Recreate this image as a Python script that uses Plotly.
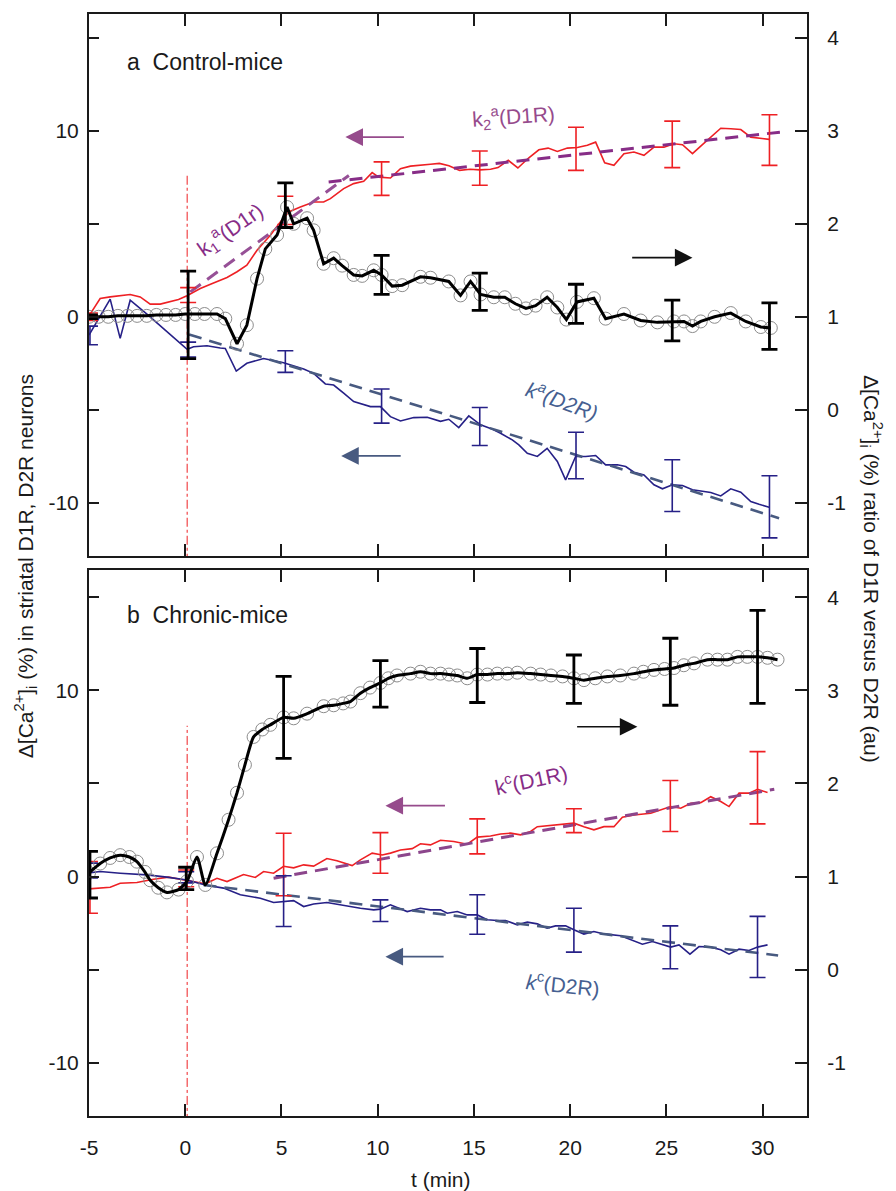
import plotly.graph_objects as go

# ---------------- DATA ----------------
# Panel a (Control-mice) -- left axis: D1R (red) and D2R (blue), right axis: ratio (black)
A_D1R_T = [-5.0, -4.42, -3.9, -2.86, -2.34, -1.82, -1.3, -0.35, 0.09, 0.78, 1.47, 2.17, 2.69, 3.2, 3.73,
           4.42, 4.94, 5.37, 5.98, 6.67, 7.19, 7.54, 8.23, 8.75, 9.27, 9.71, 10.05, 10.66, 11.18, 11.7,
           12.74, 13.2, 13.7, 14.25, 14.8, 15.3, 15.86, 16.25, 16.78, 17.28, 17.85, 18.37, 18.85, 19.33,
           19.85, 20.37, 20.89, 21.32, 21.79, 22.27, 22.79, 23.31, 23.83, 24.35, 24.87, 25.39, 25.83,
           26.35, 26.78, 27.3, 27.82, 28.34, 28.86, 29.38, 30.33]
A_D1R_V = [0.05, 0.98, 1.07, 1.2, 1.07, 0.68, 0.68, 0.93, 1.13, 1.52, 1.82, 2.11, 2.42, 2.77, 3.58,
           4.38, 5.1, 5.64, 5.9, 6.17, 6.17, 6.35, 6.89, 7.16, 7.28, 7.75, 7.51, 7.46, 7.96, 8.1,
           8.2, 8.25, 8.12, 7.87, 7.93, 7.9, 7.93, 8.02, 8.41, 8.0, 8.55, 8.98, 9.07, 8.89,
           9.07, 9.1, 9.22, 9.39, 8.28, 8.14, 8.77, 8.86, 8.68, 9.12, 9.12, 9.3, 9.25,
           8.77, 9.18, 9.66, 10.14, 10.11, 10.07, 9.66, 9.54]

A_D2R_T = [-5.0, -3.9, -3.38, -2.86, -1.99, 0.1, 0.43, 1.13, 1.82, 2.08, 2.65, 3.2, 4.07, 5.11, 6.15,
           6.67, 7.28, 7.71, 8.23, 8.75, 9.62, 10.14, 10.66, 11.18, 11.87, 12.57, 13.26, 13.69, 14.21,
           14.73, 15.34, 15.86, 16.38, 16.99, 17.33, 17.77, 18.29, 18.8, 19.33, 19.76, 20.28, 20.8,
           21.32, 21.84, 22.45, 22.88, 23.31, 23.83, 24.35, 24.79, 25.31, 25.83, 26.35, 26.87, 27.3,
           27.82, 28.34, 28.86, 29.38, 29.81, 30.33]
A_D2R_V = [-0.98, 0.95, -1.16, 0.89, 0.14, -1.75, -1.61, -1.56, -1.68, -1.7, -2.92, -2.5, -2.24, -2.47, -2.81,
           -3.04, -3.61, -3.67, -4.11, -4.56, -4.83, -4.83, -5.37, -5.6, -5.42, -5.4, -5.62, -5.51, -5.96,
           -5.33, -5.81, -6.0, -6.26, -6.62, -6.89, -7.34, -7.51, -7.07, -7.78, -8.77, -7.51, -7.51,
           -7.46, -7.96, -7.96, -8.05, -8.36, -8.5, -9.03, -9.25, -9.03, -9.07, -9.3, -9.36, -9.45,
           -9.63, -9.25, -9.43, -9.93, -10.08, -10.24]

A_RATIO_T = [-5.0, -4.5, -4.0, -3.5, -3.0, -2.5, -2.0, -1.5, -1.0, -0.5, 0.0, 0.5, 1.0, 1.65, 2.08, 2.69,
             3.2, 3.73, 4.16, 4.77, 5.29, 5.63, 6.33, 6.67, 7.19, 7.71, 8.15, 8.75, 9.19, 9.79, 10.2,
             10.75, 11.27, 12.22, 12.74, 13.69, 14.3, 14.82, 15.34, 16.03, 16.6, 17.15, 17.7, 18.2, 18.8,
             19.33, 19.8, 20.35, 21.23, 21.84, 22.79, 23.66, 24.53, 25.39, 25.91, 26.35, 26.78, 27.5,
             28.34, 29.12, 29.9, 30.42]
A_RATIO_V = [1.0, 1.0, 1.0, 1.01, 1.01, 1.01, 1.01, 1.02, 1.02, 1.02, 1.03, 1.03, 1.03, 1.03, 0.98, 0.71,
             0.91, 1.41, 1.73, 1.88, 2.18, 2.0, 2.06, 1.93, 1.57, 1.63, 1.55, 1.45, 1.44, 1.5, 1.45,
             1.33, 1.34, 1.43, 1.42, 1.38, 1.23, 1.38, 1.24, 1.21, 1.21, 1.14, 1.09, 1.12, 1.21,
             1.1, 0.97, 1.16, 1.2, 0.98, 1.03, 0.96, 0.94, 0.95, 0.95, 0.9, 0.95, 1.0,
             1.04, 0.95, 0.89, 0.88]

A_ERR_T = [-4.95, 0.15, 5.2, 10.2, 15.3, 20.3, 25.3, 30.35]
A_D1R_ERR_C = [0.0, 1.17, 5.72, 7.43, 7.99, 9.03, 9.27, 9.5]
A_D1R_ERR = [0.2, 0.4, 0.76, 0.9, 0.92, 1.16, 1.25, 1.36]
A_D2R_ERR_C = [-1.0, -1.76, -2.41, -4.8, -5.9, -7.46, -9.08, -10.22]
A_D2R_ERR = [0.5, 0.4, 0.58, 0.92, 1.02, 1.25, 1.39, 1.67]
A_RATIO_ERR_C = [1.0, 1.02, 2.2, 1.45, 1.27, 1.14, 0.96, 0.9]
A_RATIO_ERR = [0.02, 0.47, 0.24, 0.21, 0.2, 0.21, 0.22, 0.25]

A_FIT_K1_T = [0.26, 8.5]
A_FIT_K1_V = [1.34, 7.6]
A_FIT_K2_T = [7.45, 30.94]
A_FIT_K2_V = [7.25, 9.93]
A_FIT_D2R_T = [0.2, 30.85]
A_FIT_D2R_V = [-0.95, -10.83]

# Panel b (Chronic-mice)
C_D1R_T = [-5.0, -3.9, -3.38, -2.51, -1.65, -0.87, -0.26, 0.43, 1.04, 1.65, 2.17, 3.03, 3.64, 4.07, 4.59,
           5.11, 5.63, 6.15, 6.67, 7.36, 7.88, 8.67, 9.1, 9.71, 10.23, 10.66, 11.18, 11.79, 12.22, 12.74,
           13.26, 13.95, 14.65, 15.17, 15.86, 16.38, 16.9, 17.42, 17.94, 18.29, 19.33, 20.19, 20.71,
           21.23, 21.75, 22.27, 22.71, 23.31, 24.18, 24.7, 25.22, 25.74, 26.26, 26.78, 27.3, 27.82,
           28.25, 28.77, 29.29, 29.73, 30.25]
C_D1R_V = [-0.66, -0.57, -0.36, -0.32, -0.14, -0.03, -0.14, -0.27, -0.39, -0.09, -0.27, 0.11, -0.05, 0.27, 0.18,
           0.55, 0.47, 0.63, 0.56, 0.97, 0.85, 0.59, 0.9, 1.26, 1.16, 1.26, 1.43, 1.5, 1.76, 1.7,
           1.95, 1.88, 1.74, 2.12, 2.18, 2.29, 2.33, 2.24, 2.42, 2.68, 2.78, 2.87, 2.68,
           2.51, 2.68, 2.68, 3.19, 3.31, 3.4, 3.58, 3.76, 3.67, 3.94, 3.97, 4.29, 4.03,
           3.76, 4.48, 4.48, 4.69, 4.51]

C_D2R_T = [-5.0, -4.42, -3.38, -1.99, -0.95, 0.09, 1.04, 1.99, 2.86, 3.9, 4.59, 5.11, 5.63, 6.15, 6.67,
           7.36, 8.06, 9.1, 9.79, 10.14, 10.66, 11.53, 12.22, 12.74, 13.26, 13.61, 14.13, 14.65, 15.17,
           15.69, 16.21, 16.64, 17.25, 17.77, 18.29, 18.8, 19.24, 19.76, 20.19, 20.71, 21.23, 21.75,
           22.62, 23.23, 23.75, 24.27, 24.79, 25.22, 25.65, 26.22, 26.69, 27.3, 27.82, 28.25, 28.77,
           29.29, 29.73, 30.25]
C_D2R_V = [0.2, 0.27, 0.18, 0.09, -0.03, -0.18, -0.45, -0.62, -0.98, -1.16, -1.39, -1.34, -1.29, -1.61, -1.47,
           -1.39, -1.52, -1.7, -1.79, -1.75, -1.52, -1.88, -1.7, -1.79, -1.79, -1.97, -1.88, -2.06, -2.06,
           -2.32, -2.36, -2.36, -2.59, -2.45, -2.54, -2.77, -2.65, -2.65, -2.86, -3.09, -2.95, -3.08,
           -3.18, -3.4, -3.63, -3.49, -3.67, -3.79, -3.67, -4.17, -3.76, -3.79, -3.93, -4.17, -3.9,
           -3.97, -3.79, -3.67]

C_RATIO_T = [-5.0, -4.42, -3.9, -3.38, -2.9, -2.51, -2.1, -1.82, -1.4, -0.95, -0.35, 0.09, 0.61, 1.04, 1.65,
             2.25, 2.69, 3.1, 3.55, 4.0, 4.42, 5.11, 5.63, 6.33, 7.19, 7.71, 8.2, 8.58, 9.1, 9.6, 10.14,
             10.55, 11.0, 11.7, 12.22, 12.74, 13.26, 13.7, 14.13, 14.65, 15.17, 15.7, 16.21, 16.73, 17.25,
             17.94, 18.46, 19.0, 19.6, 20.19, 20.71, 21.3, 21.93, 22.6, 23.31, 23.8, 24.35, 24.9, 25.39,
             25.9, 26.43, 27.13, 27.65, 28.17, 28.69, 29.2, 29.73, 30.25, 30.77]
C_RATIO_V = [1.04, 1.14, 1.2, 1.23, 1.21, 1.16, 1.05, 0.96, 0.88, 0.83, 0.86, 0.95, 1.21, 0.91, 1.25,
             1.61, 1.9, 2.2, 2.5, 2.58, 2.63, 2.71, 2.7, 2.75, 2.83, 2.84, 2.86, 2.88, 2.97, 3.03, 3.08,
             3.13, 3.16, 3.18, 3.2, 3.18, 3.18, 3.17, 3.16, 3.13, 3.17, 3.17, 3.18, 3.18, 3.19,
             3.18, 3.17, 3.16, 3.15, 3.13, 3.11, 3.13, 3.15, 3.16, 3.18, 3.2, 3.22, 3.23, 3.24,
             3.27, 3.29, 3.33, 3.33, 3.33, 3.36, 3.36, 3.36, 3.35, 3.33]

C_ERR_T = [-4.95, 0.05, 5.11, 10.14, 15.17, 20.19, 25.2, 29.73]
C_D1R_ERR_C = [-0.58, -0.1, 0.65, 1.27, 2.16, 3.0, 3.79, 4.77]
C_D1R_ERR = [1.39, 0.45, 1.68, 1.09, 0.94, 0.64, 1.37, 1.94]
C_D2R_ERR_C = [0.32, -0.04, -1.32, -1.83, -2.04, -2.88, -3.8, -3.78]
C_D2R_ERR = [0.4, 0.3, 1.36, 0.58, 1.06, 1.18, 1.15, 1.64]
C_RATIO_ERR_C = [1.02, 0.98, 2.71, 3.07, 3.16, 3.12, 3.2, 3.36]
C_RATIO_ERR = [0.25, 0.12, 0.44, 0.25, 0.29, 0.26, 0.36, 0.5]

C_FIT_D1R_T = [4.59, 30.6]
C_FIT_D1R_V = [-0.09, 4.69]
C_FIT_D2R_T = [0.95, 30.8]
C_FIT_D2R_V = [-0.45, -4.24]

T_STIM = 0.1
STIM_TOP_A = 7.6
STIM_TOP_C = 8.1

X_TICKS = [-5, 0, 5, 10, 15, 20, 25, 30]
X_TICKTEXT = ["-5", "0", "5", "10", "15", "20", "25", "30"]
Y_TICKS = [-10, -5, 0, 5, 10, 15]
Y_TICKTEXT = ["-10", "", "0", "", "10", ""]
R_TICKS = [-1, 0, 1, 2, 3, 4]
R_TICKTEXT = ["-1", "0", "1", "2", "3", "4"]

X_RANGE = [-5.0, 32.3]
YA_RANGE = [-12.86, 16.28]
YC_RANGE = [-12.86, 16.45]

# ---------------- STYLE ----------------
FONT = "Liberation Sans, Arial, sans-serif"
INK = "#1a1a1a"
RED = "rgb(238,32,36)"
NAVY = "rgb(38,32,135)"
PURPLE = "rgb(135,45,135)"
PURPLE_ARROW = "rgb(150,75,140)"
SLATE = "rgb(72,90,128)"
SLATE_TXT = "rgb(70,95,145)"
GREY = "rgb(140,140,140)"


def to_ratio(rng):
    return [1 + rng[0] / 5.0, 1 + rng[1] / 5.0]


fig = go.Figure()


def panel(xa, yl, yr, d1t, d1v, d2t, d2v, rt, rv, et, d1c, d1e, d2c, d2e, rc, re, fits, stim_top, smooth):
    # grey circles of the ratio series
    fig.add_trace(go.Scatter(x=rt, y=rv, xaxis=xa, yaxis=yr, mode="markers",
                             marker=dict(symbol="circle-open", size=13, color=GREY, line=dict(width=1, color=GREY)),
                             showlegend=False, hoverinfo="skip"))
    # stimulus line
    fig.add_trace(go.Scatter(x=[T_STIM, T_STIM], y=[-20, stim_top], xaxis=xa, yaxis=yl, mode="lines",
                             line=dict(color=RED, width=1, dash="dashdot"), showlegend=False, hoverinfo="skip"))
    # D1R / D2R
    fig.add_trace(go.Scatter(x=d1t, y=d1v, xaxis=xa, yaxis=yl, mode="lines",
                             line=dict(color=RED, width=1.6), showlegend=False))
    fig.add_trace(go.Scatter(x=d2t, y=d2v, xaxis=xa, yaxis=yl, mode="lines",
                             line=dict(color=NAVY, width=1.6), showlegend=False))
    # fits
    for ft, fv, col, w in fits:
        fig.add_trace(go.Scatter(x=ft, y=fv, xaxis=xa, yaxis=yl, mode="lines",
                                 line=dict(color=col, width=w, dash="13px,8px"), showlegend=False))
    # error bars
    fig.add_trace(go.Scatter(x=et, y=d1c, xaxis=xa, yaxis=yl, mode="markers",
                             marker=dict(size=2, color="rgba(0,0,0,0)"),
                             error_y=dict(type="data", array=d1e, color=RED, thickness=1.6, width=8),
                             showlegend=False))
    fig.add_trace(go.Scatter(x=et, y=d2c, xaxis=xa, yaxis=yl, mode="markers",
                             marker=dict(size=2, color="rgba(0,0,0,0)"),
                             error_y=dict(type="data", array=d2e, color=NAVY, thickness=1.6, width=8),
                             showlegend=False))
    # ratio line
    fig.add_trace(go.Scatter(x=rt, y=rv, xaxis=xa, yaxis=yr, mode="lines",
                             line=dict(color="#000", width=3, shape="spline" if smooth else "linear",
                                       smoothing=0.6),
                             showlegend=False))
    fig.add_trace(go.Scatter(x=et, y=rc, xaxis=xa, yaxis=yr, mode="markers",
                             marker=dict(size=2, color="rgba(0,0,0,0)"),
                             error_y=dict(type="data", array=re, color="#000", thickness=2.8, width=8),
                             showlegend=False))


panel("x", "y", "y2", A_D1R_T, A_D1R_V, A_D2R_T, A_D2R_V, A_RATIO_T, A_RATIO_V, A_ERR_T,
      A_D1R_ERR_C, A_D1R_ERR, A_D2R_ERR_C, A_D2R_ERR, A_RATIO_ERR_C, A_RATIO_ERR,
      [(A_FIT_K1_T, A_FIT_K1_V, "rgb(150,80,150)", 3), (A_FIT_K2_T, A_FIT_K2_V, PURPLE, 3),
       (A_FIT_D2R_T, A_FIT_D2R_V, SLATE, 2.6)], STIM_TOP_A, False)
panel("x2", "y3", "y4", C_D1R_T, C_D1R_V, C_D2R_T, C_D2R_V, C_RATIO_T, C_RATIO_V, C_ERR_T,
      C_D1R_ERR_C, C_D1R_ERR, C_D2R_ERR_C, C_D2R_ERR, C_RATIO_ERR_C, C_RATIO_ERR,
      [(C_FIT_D1R_T, C_FIT_D1R_V, "rgb(140,70,140)", 3), (C_FIT_D2R_T, C_FIT_D2R_V, SLATE, 2.6)],
      STIM_TOP_C, True)

TOP_DOM = [0.5082, 1.0]
BOT_DOM = [0.0, 0.4952]

xcommon = dict(range=X_RANGE, showline=True, linewidth=2, linecolor=INK, mirror="ticks",
               ticks="inside", ticklen=12, tickwidth=2, tickcolor=INK, tickvals=X_TICKS, ticktext=X_TICKTEXT,
               showgrid=False, zeroline=False, tickfont=dict(family=FONT, size=21, color=INK))
ycommon = dict(showline=True, linewidth=2, linecolor=INK, ticks="inside", ticklen=10, tickwidth=2,
               tickcolor=INK, showgrid=False, zeroline=False, tickfont=dict(family=FONT, size=21, color=INK))

fig.update_layout(
    width=896, height=1191,
    margin=dict(l=89, r=89, t=12, b=75),
    paper_bgcolor="white", plot_bgcolor="white",
    font=dict(family=FONT, color=INK),
    xaxis=dict(**xcommon, anchor="y", showticklabels=False),
    xaxis2=dict(**xcommon, anchor="y3", showticklabels=True, ticklabelstandoff=12),
    yaxis=dict(**ycommon, domain=TOP_DOM, range=YA_RANGE, anchor="x", tickvals=Y_TICKS, ticktext=Y_TICKTEXT,
               ticklabelstandoff=4),
    yaxis2=dict(**ycommon, range=to_ratio(YA_RANGE), anchor="x", overlaying="y", side="right",
                tickvals=R_TICKS, ticktext=R_TICKTEXT, ticklabelstandoff=14),
    yaxis3=dict(**ycommon, domain=BOT_DOM, range=YC_RANGE, anchor="x2", tickvals=Y_TICKS, ticktext=Y_TICKTEXT,
                ticklabelstandoff=4),
    yaxis4=dict(**ycommon, range=to_ratio(YC_RANGE), anchor="x2", overlaying="y3", side="right",
                tickvals=R_TICKS, ticktext=R_TICKTEXT, ticklabelstandoff=14),
)
fig.update_yaxes(ticklen=12, selector=dict(side="right"))

ann = []


def arrow(xref, yref, tip_x, tail_x, yv, col):
    ann.append(dict(x=tip_x, y=yv, ax=tail_x, ay=yv, xref=xref, yref=yref, axref=xref, ayref=yref,
                    text="", showarrow=True, arrowhead=2, arrowsize=2.2, arrowwidth=1.6, arrowcolor=col))


arrow("x", "y", 8.32, 11.44, 9.66, PURPLE_ARROW)
arrow("x", "y", 26.35, 23.14, 3.18, "#111")
arrow("x", "y", 8.1, 11.27, -7.48, SLATE)
arrow("x2", "y3", 10.4, 13.57, 3.81, PURPLE_ARROW)
arrow("x2", "y3", 23.49, 20.28, 8.05, "#111")
arrow("x2", "y3", 10.4, 13.5, -4.3, SLATE)


def label(xref, yref, x, y, text, col, angle, size=21, anchor="center"):
    ann.append(dict(x=x, y=y, xref=xref, yref=yref, text=text, showarrow=False, textangle=angle,
                    xanchor=anchor, yanchor="middle", font=dict(family=FONT, size=size, color=col)))


label("x", "y", -3.12, 13.69, "a  Control-mice", INK, 0, 23, "left")
label("x2", "y3", -3.12, 14.05, "b  Chronic-mice", INK, 0, 23, "left")
label("x", "y", 2.34, 4.67, "k<sub>1</sub><sup>a</sup>(D1r)", PURPLE, -35)
label("x", "y", 17.06, 10.79, "k<sub>2</sub><sup>a</sup>(D1R)", PURPLE_ARROW, -4)
label("x", "y", 19.6, -4.46, "<i>k<sup>a</sup>(D2R)</i>", SLATE_TXT, 20)
label("x2", "y3", 17.94, 5.24, "k<sup>c</sup>(D1R)", PURPLE, -12)
label("x2", "y3", 19.6, -5.76, "<i>k</i><sup>c</sup>(D2R)", SLATE_TXT, 6)

ann.append(dict(x=-0.089, y=0.499, xref="paper", yref="paper", showarrow=False, textangle=-90,
                text="Δ[Ca<sup>2+</sup>]<sub>i</sub> (%) in striatal D1R, D2R neurons",
                font=dict(family=FONT, size=21, color=INK), xanchor="center", yanchor="middle"))
ann.append(dict(x=1.089, y=0.4964, xref="paper", yref="paper", showarrow=False, textangle=90,
                text="Δ[Ca<sup>2+</sup>]<sub>i</sub> (%) ratio of D1R versus D2R (au)",
                font=dict(family=FONT, size=21, color=INK), xanchor="center", yanchor="middle"))
ann.append(dict(x=0.490, y=-0.058, xref="paper", yref="paper", showarrow=False, text="t (min)",
                font=dict(family=FONT, size=21, color=INK), xanchor="center", yanchor="middle"))

fig.update_layout(annotations=ann)
fig.write_html("out.html", config={"displayModeBar": False},
               post_script="document.body.style.margin='0px';document.body.style.overflow='hidden';")
